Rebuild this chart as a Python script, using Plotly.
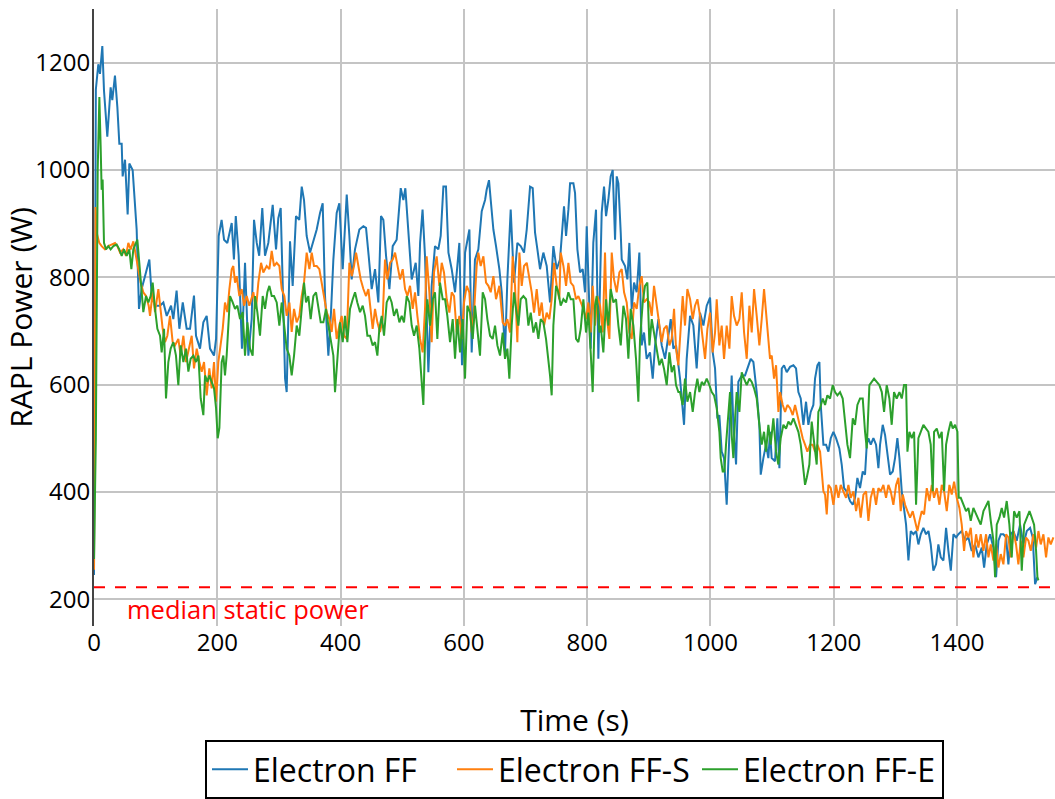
import plotly.graph_objects as go

# ---------------- data ----------------
time_ff = [0, 3, 7, 9.7, 13.5, 16.2, 21.6, 27, 29.7, 34, 37.9, 41.1, 44.9, 46.5, 50.3, 51.9, 54.6, 57.3, 62.7, 69.2,
           73, 77.3, 82.7, 89.8, 93.6, 99, 107, 112.5, 118, 125, 128.7, 134, 138.5, 144, 150.3, 155.8, 162.2, 165.5,
           172, 177.4, 182.8, 188.2, 194.7, 198, 202.3, 207, 211, 216.3, 223.4, 227, 230, 234.7, 240, 245, 250.4,
           255.8, 259.6, 264, 268, 273, 277.4, 282.8, 289.9, 295.3, 299, 302.9, 307.2, 310, 312.6, 318, 322.3,
           327.7, 333, 337, 340.7, 345, 350.5, 355.9, 361.3, 366.7, 371, 374.8, 380.2, 384.5, 388.3, 393.7, 398,
           403.5, 410, 414.3, 418, 423.4, 430.5, 437, 441.3, 445.6, 450.5, 455.9, 461.3, 465.6, 469.4, 473.8, 479.2,
           484.6, 491, 497.6, 501.9, 505.1, 510, 515.4, 521.9, 526.2, 529, 533, 537, 542.4, 547.8, 553.2, 558.6,
           562.4, 566.8, 571, 575, 580.3, 585.7, 592.7, 597, 602, 609, 612.7, 618, 623.5, 629, 634.4, 637, 640.8,
           643.6, 647.9, 652.2, 657.6, 661.4, 666.8, 670.6, 676, 681.4, 686.8, 692.2, 697.6, 702, 707.4, 711.7,
           715.5, 719.3, 723.6, 729, 734.4, 739.8, 745.2, 750.6, 756, 762.5, 765.8, 769.6, 772.3, 777.7, 780.4,
           784.2, 788.5, 792.8, 796.6, 799.3, 802, 805.8, 810, 814.4, 818.2, 823.6, 827.4, 830.7, 834.4, 838.2,
           841.5, 845.3, 848, 850.7, 854.5, 856.1, 861.5, 865.3, 868.5, 872.3, 876.1, 880.4, 884.7, 888.5, 892.3,
           896.6, 902, 906.4, 910.2, 915.6, 921, 926.4, 931.8, 935.6, 939.9, 944.2, 950.7, 957.2, 961.5, 967,
           972.3, 977.7, 983.1, 988.6, 994, 999.4, 1003.7, 1007.5, 1011.3, 1014.5, 1018.3, 1022.1, 1026.4, 1030.7,
           1034.5, 1037.2, 1041.6, 1045.3, 1050.8, 1056.2, 1061.6, 1065.4, 1069.7, 1075.1, 1079.4, 1081.6, 1085.9,
           1090.2, 1094, 1096.7, 1099.4, 1104.8, 1108.6, 1111.9, 1115.7, 1119.4, 1123.8, 1129.2, 1134.6, 1138.9,
           1142.7, 1146.5, 1150.8, 1155.1, 1158.9, 1162.7, 1167, 1169.7, 1173.5, 1176.8, 1179, 1183.3, 1187.6,
           1191.4, 1195.2, 1199.5, 1203.8, 1209.2, 1213, 1216.8, 1221.1, 1226.5, 1230.9, 1234.6, 1238.4, 1242.7,
           1247.1, 1250.8, 1253.6, 1256.3, 1260.1, 1264.4, 1268.7, 1272.5, 1275.2, 1279.5, 1283.3, 1287.1, 1291.4,
           1295.8, 1299.5, 1303.3, 1306.6, 1310.4, 1314.1, 1317.4, 1321.2, 1325, 1329.3, 1333.6, 1337.4, 1341.2,
           1345.5, 1349.8, 1353.7, 1357.4, 1361.7, 1366, 1369.8, 1373.7, 1378, 1382.3, 1386.1, 1390, 1394.2,
           1398.5, 1402.3, 1407.7, 1413.1, 1418.5, 1423.9, 1429.3, 1434.7, 1440.2, 1444, 1448.3, 1453.7, 1459.1,
           1463.4, 1467.2, 1471, 1475.3, 1479.6, 1483.4, 1487.2, 1491.5, 1496.9, 1502.3, 1507.8, 1513.2, 1518.6,
           1522.9, 1526.7, 1530.5]
power_ff = [245, 1150, 1197, 1179, 1231, 1148, 1062, 1154, 1130, 1176, 1117, 1049, 1049, 988, 1019, 988, 917, 1012, 1000, 889,
            741, 778, 802, 833, 766, 747, 747, 753, 728, 747, 722, 775, 704, 753, 704, 704, 766, 691,
            667, 716, 728, 667, 654, 685, 877, 907, 870, 864, 901, 833, 914, 840, 667, 827, 654,
            722, 907, 864, 840, 929, 840, 864, 935, 852, 910, 929, 741, 611, 586, 867, 784,
            914, 907, 969, 944, 877, 846, 870, 889, 920, 938, 765, 654, 735, 833, 920, 938,
            815, 954, 877, 796, 852, 889, 895, 892, 840, 778, 815, 753, 914, 907, 840, 778,
            858, 870, 966, 944, 966, 877, 796, 827, 765, 864, 926, 839, 623, 784, 858, 852,
            877, 969, 969, 846, 815, 772, 864, 636, 846, 889, 660, 833, 852, 923, 944, 963, 981,
            944, 889, 858, 815, 772, 660, 796, 926, 790, 864, 858, 846, 889, 969, 966,
            883, 852, 815, 846, 821, 753, 858, 815, 833, 932, 877, 926, 975, 975, 957,
            852, 809, 815, 772, 895, 815, 667, 864, 926, 648, 920, 969, 914, 944, 988,
            1000, 870, 988, 975, 883, 833, 821, 796, 864, 741, 790, 772, 846, 673, 697,
            648, 660, 611, 673, 722, 673, 648, 691, 722, 667, 673, 611, 525, 648, 728,
            710, 630, 734, 710, 747, 762, 660, 630, 537, 543, 475, 463, 376, 488,
            617, 525, 451, 605, 617, 617, 636, 648, 642, 586, 525, 432, 463,
            488, 463, 512, 463, 457, 537, 444, 630, 636, 623, 633, 636, 630,
            586, 574, 525, 568, 525, 549, 562, 611, 636, 642, 562, 488, 488,
            475, 500, 512, 500, 481, 451, 407, 401, 383, 376, 389, 426, 407,
            438, 432, 488, 500, 488, 500, 488, 444, 488, 525, 506, 475, 432,
            438, 463, 500, 463, 401, 364, 339, 272, 327, 321, 327, 302, 321,
            333, 321, 327, 302, 253, 265, 302, 278, 272, 333, 290, 253, 321,
            315, 321, 327, 309, 315, 290, 302, 278, 296, 259, 302, 321, 296,
            241, 309, 321, 321, 315, 265, 321, 327, 309, 339, 302, 327, 333,
            315, 228, 241]

time_ffs = [0, 2.5, 5, 8.6, 12.4, 17.8, 23.3, 28.7, 34.1, 37.9, 42.2, 47.6, 51.9, 55.7, 59.5, 63.8, 68.1, 71.9, 75.7,
            80, 84.4, 88.7, 90.9, 95.2, 99, 104.4, 108.2, 111.4, 115.2, 119, 123.3, 127.6, 131.4, 136.8, 140.6, 145,
            149.3, 153.6, 158.5, 162.2, 166.6, 170.9, 174.7, 178.5, 182.8, 187.1, 190.9, 194.7, 198, 201.7, 205.5,
            208.8, 212.5, 216.3, 219.6, 223.4, 226, 228.8, 231.5, 235.8, 239.6, 243.4, 247.7, 252, 258.5, 262.8,
            266.6, 271, 274.7, 280.1, 284.5, 288.3, 292, 296.4, 300.7, 304.5, 308.8, 312.6, 317, 320.7, 324.5, 328.8,
            333.1, 336.9, 340.7, 345, 349.4, 353.2, 356.9, 361.3, 365.6, 369.4, 373.2, 377.5, 381.8, 385.6, 389.4,
            393.7, 398, 401.8, 405.6, 410, 414.3, 418.1, 421.8, 425.1, 428.9, 432.7, 437, 441.3, 445.1, 449, 452.1,
            455.9, 459.7, 464, 468.3, 472.1, 475.9, 480.3, 484.6, 488.4, 492.1, 496.5, 500.8, 504.6, 508.4, 512.7,
            517, 520.8, 524.6, 529, 533.2, 537, 539.7, 544, 547.8, 551.6, 555.9, 560.3, 564.1, 567.8, 572.2, 576.5,
            580.3, 584.1, 588.4, 592.7, 596.5, 600.3, 604.6, 608.9, 612.7, 616.5, 620.8, 623.5, 627.3, 631.7, 636,
            639.8, 643.6, 647.9, 652.2, 657.6, 663, 666.8, 670.6, 674.9, 679.2, 683, 686.8, 690.1, 693.9, 697.6,
            702, 706.3, 710.1, 713.9, 718.2, 722.5, 726.3, 730.1, 734.4, 738.7, 742.5, 746.3, 750.6, 754.9, 757.1,
            761.5, 765.8, 769.6, 773.4, 777.7, 782, 785.8, 789.6, 793.9, 798.2, 802, 805.8, 809, 812.8, 816.6, 821,
            825.3, 829, 831.7, 836.1, 839.9, 843.6, 848, 852.3, 856.1, 859.9, 864.2, 868.5, 872.3, 876.1, 880.4,
            884.7, 888.5, 892.3, 896.6, 901, 904.8, 908.5, 912.9, 917.2, 921, 924.8, 929.1, 933.4, 937.2, 941,
            944.2, 948, 951.8, 955, 958.8, 962.6, 967, 971.3, 975, 978.9, 983.2, 987.5, 991.3, 995.1, 999.4,
            1003.7, 1007.5, 1010.2, 1014.5, 1018.3, 1022.1, 1026.4, 1030.8, 1034.5, 1038.3, 1042.7, 1047, 1050.8,
            1054.6, 1058.9, 1063.2, 1067, 1070.8, 1075.1, 1079.4, 1083.2, 1087, 1090.3, 1094.1, 1096.7, 1099.5,
            1103.2, 1106.5, 1110.3, 1113, 1117.3, 1121.1, 1124.9, 1129.2, 1133.5, 1137.3, 1141.1, 1145.4, 1149.7,
            1153.5, 1157.3, 1161.6, 1165.9, 1169.7, 1173.5, 1177.9, 1180.6, 1183.3, 1186, 1188.7, 1191.4, 1195.2,
            1199.5, 1203.8, 1207.6, 1211.4, 1215.7, 1220, 1223.8, 1227.6, 1232, 1236.3, 1240.1, 1243.8, 1248.2,
            1252.5, 1256.3, 1260.1, 1264.4, 1268.7, 1272.5, 1276.3, 1280.6, 1284.9, 1288.7, 1292.5, 1296.8, 1301.2,
            1305, 1308.7, 1312, 1315.8, 1319.6, 1323.9, 1328.2, 1332, 1335.8, 1339.1, 1342.8, 1346.6, 1351, 1355.3,
            1359.1, 1362.8, 1367.2, 1371.5, 1375.3, 1379.1, 1383.4, 1387.7, 1391.5, 1395.3, 1399.6, 1403.9, 1407.7,
            1411.5, 1414.7, 1418.5, 1422.3, 1426.6, 1431, 1434.7, 1438.5, 1442.9, 1447.2, 1451, 1454.8, 1459.1,
            1463.4, 1467.2, 1471, 1475.3, 1479.6, 1483.4, 1487.2, 1491.5, 1495.8, 1499.6, 1503.4, 1507.8, 1512.1,
            1515.9, 1519.7, 1524, 1528.3, 1532.1, 1535.9, 1540.2, 1544.5, 1548.3, 1552.1, 1556.4]
power_ffs = [255, 931, 880, 864, 858, 852, 858, 861, 864, 858, 846, 852, 840, 864, 852, 867, 840, 821, 790,
             772, 765, 747, 728, 772, 735, 778, 735, 704, 679, 691, 728, 679, 673, 685, 654, 691,
             642, 667, 691, 630, 667, 642, 624, 642, 580, 630, 593, 642, 568, 642, 673,
             704, 753, 735, 778, 815, 821, 790, 802, 765, 778, 747, 765, 747, 772, 741,
             790, 827, 809, 821, 815, 849, 821, 827, 821, 778, 765, 728, 753, 698, 741, 716,
             728, 765, 790, 846, 815, 846, 821, 821, 815, 790, 765, 735, 722, 698, 741,
             685, 710, 728, 691, 685, 827, 802, 821, 846, 821, 796, 778, 765, 778, 741, 704,
             741, 716, 698, 722, 833, 796, 827, 833, 846, 821, 796, 815, 778, 765, 784,
             741, 772, 728, 685, 660, 741, 839, 772, 679, 809, 839, 784, 827, 809, 759, 734,
             772, 765, 697, 728, 685, 753, 784, 772, 697, 734, 821, 846, 821, 839, 790,
             784, 772, 802, 759, 784, 716, 710, 722, 697, 839, 784, 679, 846, 784, 821,
             827, 796, 772, 734, 778, 728, 753, 710, 734, 722, 759, 827, 784, 759, 846,
             821, 784, 827, 790, 784, 759, 765, 753, 741, 722, 753, 697, 784, 710, 765, 747,
             697, 846, 728, 685, 846, 796, 772, 809, 815, 772, 753, 697, 685, 753, 741,
             784, 802, 753, 759, 753, 728, 784, 747, 716, 679, 704, 710, 673, 685, 741,
             667, 636, 704, 765, 710, 778, 759, 722, 747, 759, 728, 691, 648, 704, 734,
             660, 697, 759, 673, 710, 648, 710, 667, 765, 728, 710, 722, 772,
             697, 648, 747, 697, 778, 728, 673, 722, 778, 734, 685, 648, 654,
             611, 636, 549, 586, 562, 549, 562, 556, 543, 562, 543, 525, 500,
             488, 475, 488, 488, 475, 488, 475, 438, 401, 395, 358, 413, 407,
             376, 413, 389, 413, 401, 389, 413, 389, 401, 364, 389, 352, 395,
             401, 346, 389, 407, 376, 407, 401, 413, 389, 413, 401, 376, 413,
             426, 364, 395, 376, 364, 352, 364, 346, 327, 346, 364, 358, 407, 383,
             413, 389, 407, 376, 413, 401, 364, 413, 395, 419, 389, 370, 339,
             290, 327, 315, 333, 278, 321, 296, 321, 290, 321, 278, 302, 272,
             302, 259, 284, 265, 321, 315, 278, 327, 302, 265, 309, 278, 315,
             309, 290, 321, 296, 327, 302, 321, 278, 315, 302, 315]

time_ffe = [0, 3, 6, 8.7, 10.8, 12.4, 14, 16.2, 19.5, 23.3, 27, 31.4, 36.8, 41.1, 44.9, 48.7, 53, 57.3, 60.6, 63.8,
            68.1, 70.3, 73.5, 77.3, 80, 84.4, 88.2, 91.9, 95.2, 99, 102.8, 107.1, 109.8, 113.6, 116.8, 120.6, 124.4,
            128.7, 133, 136.8, 140.6, 145, 149.3, 153.1, 156.8, 161.2, 165.5, 169.3, 173.1, 177.4, 180.1, 183.9,
            187.1, 190.9, 194.7, 198, 200.7, 203.4, 207.1, 209.8, 212.5, 215.2, 217.9, 220.7, 225, 228.8, 232.6,
            236.9, 241.2, 245, 248.8, 253.1, 257.4, 261.2, 265, 269.3, 273.7, 277.4, 281.2, 284.5, 288.3, 292,
            296.4, 300.7, 304.5, 308.3, 312.6, 316.9, 320.7, 324.5, 328.8, 333.1, 336.9, 340.7, 344, 347.7, 351.5,
            355.9, 360.2, 364, 367.8, 372.1, 376.4, 380.2, 384, 388.3, 391, 394.8, 399.1, 403.5, 407.2, 411, 415.3,
            419.7, 423.5, 427.2, 431.6, 435.9, 439.7, 443.5, 447.8, 452.1, 455.9, 459.7, 462.9, 466.7, 470.5, 474.8,
            479.2, 482.9, 486.7, 491, 495.4, 499.2, 502.9, 507.3, 511.6, 515.4, 519.2, 523.5, 527.8, 531.6, 534.3,
            537, 540.8, 545.1, 549.5, 553.2, 557, 561.3, 565.7, 569.5, 573.2, 577.6, 581.9, 585.7, 589.5, 593.8,
            598.1, 601.9, 605.7, 610, 614.4, 618.1, 622, 626.2, 630.6, 634.4, 638.1, 642.5, 646.8, 650.6, 654.4,
            658.7, 663, 666.8, 670.6, 673.8, 677.6, 681.4, 684.7, 688.5, 692.2, 696.6, 700.9, 704.7, 708.5, 712.8,
            717.1, 720.9, 724.7, 729, 733.3, 737.1, 739.8, 742.5, 745.2, 749.6, 753.3, 757.1, 761.5, 765.8, 769.6,
            773.4, 777.7, 782, 785.8, 789.6, 793.9, 798.2, 802, 805.8, 809, 812.8, 815.5, 819.9, 822, 826.3, 830.7,
            834.4, 838.2, 842.6, 846.9, 850.7, 854.5, 858.8, 863.1, 866.9, 870.7, 875, 879.3, 883.1, 885.8, 890.2,
            893.9, 897.7, 901, 904.8, 908.5, 912.9, 917.2, 921, 924.8, 929.1, 933.4, 937.2, 941, 944.2, 948, 950.7,
            955, 958.8, 962.6, 967, 971.3, 975, 978.8, 982.1, 985.9, 989.6, 994, 998.3, 1002.1, 1005.9, 1010.2,
            1014.5, 1016.7, 1019.9, 1022.6, 1025.3, 1029.1, 1031.8, 1034.5, 1037.2, 1040, 1042.6, 1047, 1050.8,
            1054.5, 1058.9, 1063.2, 1067, 1070.8, 1075.1, 1079.4, 1083.2, 1087, 1090.2, 1094, 1097.8, 1102.1,
            1106.5, 1110.2, 1114, 1118.4, 1122.7, 1126.5, 1130.3, 1134.6, 1138.9, 1142.7, 1146.5, 1149.7, 1153.5,
            1156.2, 1160.5, 1164.3, 1167, 1169.7, 1172.4, 1175.1, 1177.9, 1182.2, 1186, 1189.7, 1194.1, 1198.4,
            1202.2, 1206, 1210.3, 1214.6, 1218.4, 1222.2, 1226.5, 1230.9, 1234.6, 1238.4, 1242.7, 1247.1, 1250.8,
            1253.6, 1257.9, 1261.7, 1265.5, 1269.8, 1274.1, 1278, 1281.7, 1286, 1290.3, 1294.1, 1297.9, 1302.2,
            1306.6, 1310.4, 1314.1, 1317.4, 1319.6, 1322.8, 1326.6, 1330.4, 1333.6, 1337.4, 1341.2, 1345.5, 1349.8,
            1353.6, 1357.4, 1360.7, 1362.8, 1367.2, 1371.5, 1375.3, 1379.1, 1382.3, 1386.1, 1390, 1393.1, 1396.9,
            1400.7, 1402.8, 1406.1, 1410.4, 1414.7, 1418.5, 1422.3, 1426.6, 1431, 1434.7, 1438.5, 1442.9, 1447.2,
            1451, 1454.8, 1459.1, 1461.8, 1464.5, 1468.8, 1472.6, 1476.4, 1480.7, 1485, 1488.8, 1492.6, 1496.9,
            1501.3, 1505.1, 1508.9, 1513.2, 1517.6, 1521.3, 1525.1, 1528.3, 1530.5, 1532.1]
power_ffe = [275, 500, 1000, 1136, 1043, 963, 982, 864, 852, 858, 852, 858, 861, 852, 840, 852, 840, 852, 815, 852,
             864, 870, 827, 778, 735, 765, 753, 765, 790, 741, 704, 691, 660, 704, 574, 642, 667,
             679, 654, 599, 673, 642, 667, 624, 648, 654, 642, 654, 574, 543, 617, 605,
             617, 605, 593, 556, 500, 519, 642, 654, 617, 654, 704, 765, 753, 741, 747,
             722, 735, 654, 716, 667, 654, 765, 735, 691, 765, 741, 772, 784, 765, 765,
             753, 710, 753, 716, 667, 654, 617, 654, 710, 691, 741, 790, 753, 765, 722,
             765, 772, 741, 716, 716, 741, 710, 679, 654, 586, 642, 716, 679, 728, 679, 741,
             759, 772, 753, 735, 747, 728, 691, 691, 673, 679, 654, 704, 728, 691, 753,
             765, 753, 728, 741, 716, 728, 716, 765, 753, 710, 691, 710, 667, 605, 562,
             680, 759, 710, 759, 772, 685, 790, 759, 759, 728, 679, 722, 648, 722, 660,
             722, 611, 747, 734, 685, 747, 697, 654, 772, 759, 722, 691, 685, 710, 673,
             654, 697, 648, 667, 611, 710, 772, 741, 710, 759, 765, 759, 710, 734, 697,
             716, 685, 722, 716, 685, 648, 617, 580, 710, 784, 772, 747, 759, 753, 772,
             759, 759, 685, 679, 704, 759, 697, 734, 660, 586, 747, 765, 697, 710, 660, 759,
             710, 778, 753, 759, 710, 673, 747, 722, 648, 741, 710, 648, 568, 685, 753,
             784, 790, 673, 722, 697, 673, 636, 648, 629, 599, 660, 623, 636, 599, 586, 586,
             562, 611, 568, 586, 549, 586, 611, 586, 605, 599, 611, 599, 586, 580, 556,
             512, 463, 438, 438, 488, 537, 586, 506, 463, 537, 586, 549, 623,
             611, 599, 611, 605, 593, 574, 525, 488, 512, 475, 525, 488, 537,
             475, 451, 500, 525, 518, 531, 525, 537, 525, 512, 488, 451, 413,
             426, 451, 531, 500, 475, 451, 549, 556, 574, 562, 580, 574, 599,
             586, 580, 586, 574, 525, 488, 463, 537, 525, 562, 574, 574, 512,
             481, 599, 605, 611, 605, 599, 586, 549, 599, 574, 525, 586, 574,
             586, 574, 599, 599, 475, 512, 500, 512, 376, 500, 512, 525, 518,
             512, 488, 401, 512, 518, 500, 512, 401, 488, 512, 531, 518, 525,
             512, 389, 389, 376, 364, 370, 346, 370, 358, 346, 339, 364, 376,
             383, 346, 309, 241, 339, 352, 370, 352, 383, 339, 278, 364, 352,
             364, 253, 339, 352, 364, 352, 339, 290, 241, 235]

static_power = 222
series_names = ["Electron FF", "Electron FF-S", "Electron FF-E"]
series_colors = ["#1f77b4", "#ff7f0e", "#2ca02c"]
x_ticks = [0, 200, 400, 600, 800, 1000, 1200, 1400]
y_ticks = [200, 400, 600, 800, 1000, 1200]

# ---------------- figure ----------------
fig = go.Figure()
for name, color, t, p in zip(series_names, series_colors,
                             [time_ff, time_ffs, time_ffe],
                             [power_ff, power_ffs, power_ffe]):
    fig.add_trace(go.Scatter(x=t, y=p, mode="lines", name=name,
                             line=dict(color=color, width=2)))

fig.add_shape(type="line", xref="paper", yref="y", x0=0, x1=1,
              y0=static_power, y1=static_power,
              line=dict(color="red", width=2, dash="11px,10px"))
fig.add_annotation(x=50, y=static_power, xref="x", yref="y",
                   text="median static power", showarrow=False,
                   xanchor="left", yanchor="top", yshift=-3,
                   font=dict(color="red", size=25.5))

grid = "#c4c4c4"
fig.update_layout(
    width=1055, height=799,
    margin=dict(l=94, r=0, t=9, b=170),
    plot_bgcolor="white", paper_bgcolor="white",
    font=dict(family="Open Sans", color="black"),
    legend=dict(orientation="h", x=0.5, xanchor="center", y=-0.185, yanchor="top",
                bordercolor="black", borderwidth=2, font=dict(size=32),
                itemwidth=36, entrywidth=194, entrywidthmode="pixels"),
    xaxis=dict(range=[0, 1559], tickvals=x_ticks, showgrid=True, gridcolor=grid, gridwidth=2,
               zeroline=False, showline=False, ticks="", tickfont=dict(size=24),
               title=dict(text="Time (s)", font=dict(size=30), standoff=52)),
    yaxis=dict(range=[150, 1300], tickvals=y_ticks, showgrid=True, gridcolor=grid, gridwidth=2,
               zeroline=False, showline=True, linecolor="#444", linewidth=2, ticks="",
               tickfont=dict(size=24), ticklabelstandoff=-3,
               title=dict(text="RAPL Power (W)", font=dict(size=30), standoff=2)),
)

fig.write_html("out.html")
